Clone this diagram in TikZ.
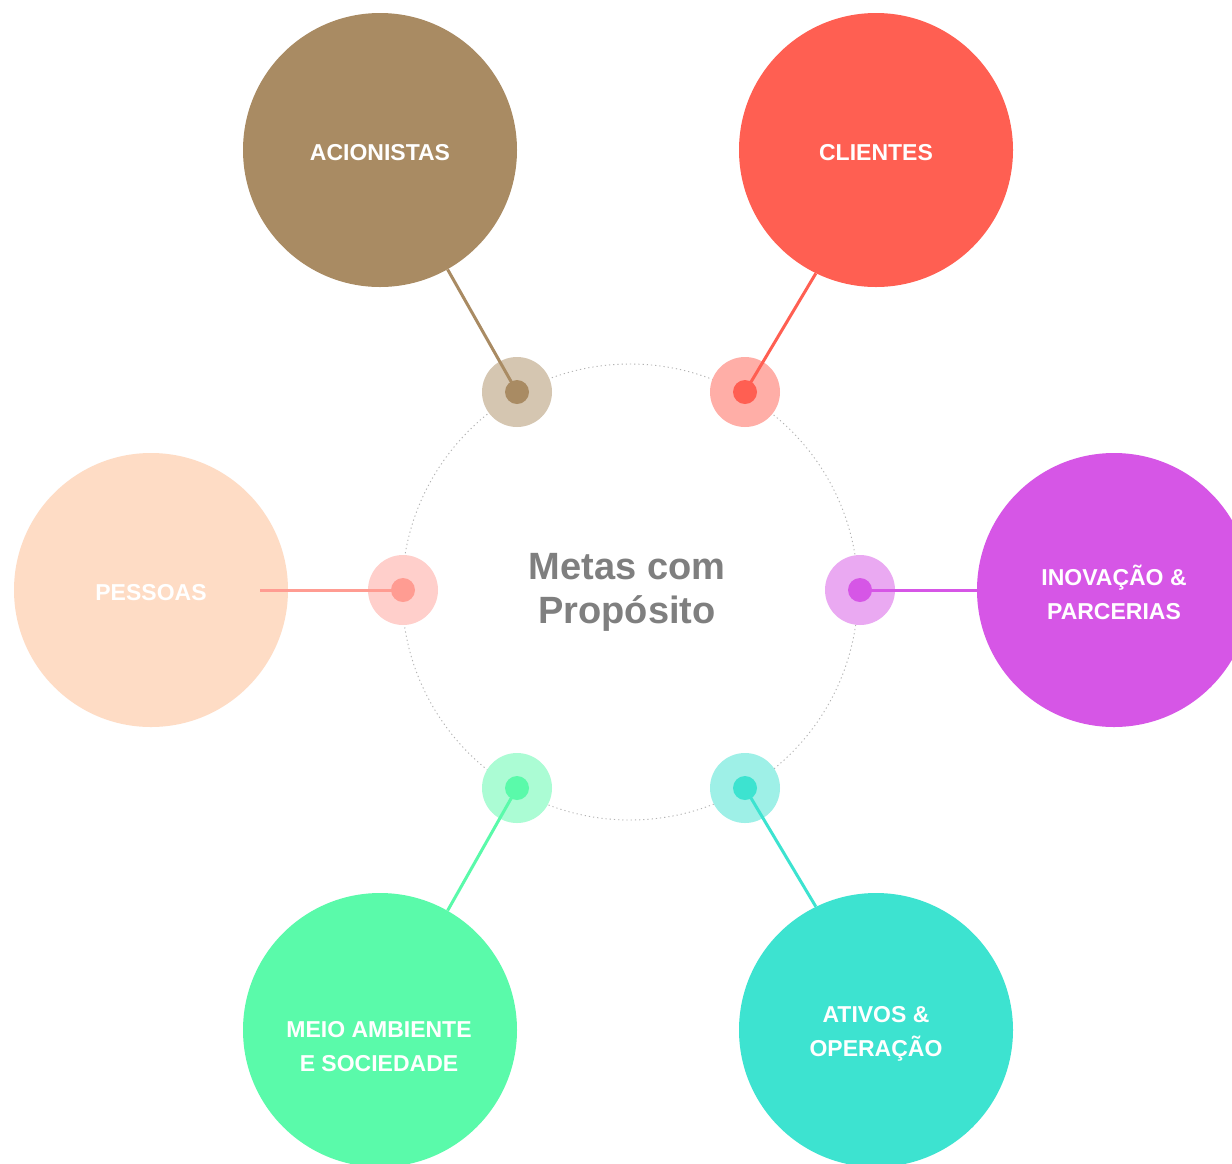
\documentclass[tikz,border=0pt]{standalone}
\usepackage{fontspec}
\setmainfont{Liberation Sans}
\begin{document}
\begin{tikzpicture}[x=1pt,y=-1pt,
  bigc/.style={circle,minimum size=274pt,inner sep=0pt,fill=#1},
  lbl/.style={text=white,font=\fontsize{23}{34}\selectfont\bfseries,align=center},
  ring/.style={circle,minimum size=70pt,inner sep=0pt,fill=#1},
  core/.style={circle,minimum size=24pt,inner sep=0pt,fill=#1},
  link/.style={draw=#1,line width=3pt},
  hub/.style={circle,minimum size=456pt,inner sep=0pt,draw=gray!60,
    dash pattern=on 1.2pt off 3pt,line width=0.9pt}]
\definecolor{cAci}{HTML}{A98B63}
\definecolor{cAciL}{HTML}{D5C6B1}
\definecolor{cCli}{HTML}{FF5F52}
\definecolor{cCliL}{HTML}{FFAEA7}
\definecolor{cIno}{HTML}{D656E6}
\definecolor{cInoL}{HTML}{EAA9F2}
\definecolor{cAti}{HTML}{3DE3D0}
\definecolor{cAtiL}{HTML}{9EF0E7}
\definecolor{cMei}{HTML}{5AFAAA}
\definecolor{cMeiL}{HTML}{ABFCD4}
\definecolor{cPes}{HTML}{FEDCC5}
\definecolor{cPesD}{HTML}{FF9C92}
\definecolor{cPesL}{HTML}{FFCFCB}
\definecolor{cTitle}{HTML}{7F7F7F}
\useasboundingbox (0,0) rectangle (1232,1163);
\fill[white] (0,0) rectangle (1232,1163);

% central hub
\node[hub] (hub) at (630,592) {};
\node[text=cTitle,font=\fontsize{38}{44}\selectfont\bfseries,align=center] (title) at (627,592) {Metas com\\Propósito};

% outer circles
\node[bigc=cAci] (aci) at (380,150) {};
\node[bigc=cCli] (cli) at (876,150) {};
\node[bigc=cIno] (ino) at (1114,590) {};
\node[bigc=cAti] (ati) at (876,1030) {};
\node[bigc=cMei] (mei) at (380,1030) {};
\node[bigc=cPes] (pes) at (151,590) {};
\coordinate (pesend) at (260,590);

% labels
\node[lbl] (taci) at (380,153) {ACIONISTAS};
\node[lbl] (tcli) at (876,153) {CLIENTES};
\node[lbl] (tino) at (1114,592) {INOVAÇÃO \&\\PARCERIAS};
\node[lbl] (tati) at (876,1034) {ATIVOS \&\\OPERAÇÃO};
\node[lbl] (tmei) at (379,1047) {MEIO AMBIENTE\\E SOCIEDADE};
\node[lbl] (tpes) at (151,593) {PESSOAS};

% markers on the hub
\node[ring=cAciL] (raci) at (517,392) {};
\node[ring=cCliL] (rcli) at (745,392) {};
\node[ring=cInoL] (rino) at (860,590) {};
\node[ring=cAtiL] (rati) at (745,788) {};
\node[ring=cMeiL] (rmei) at (517,788) {};
\node[ring=cPesL] (rpes) at (403,590) {};

% connectors
\draw[link=cAci] (raci.center) -- (aci);
\draw[link=cCli] (rcli.center) -- (cli.-116);
\draw[link=cIno] (rino.center) -- (ino);
\draw[link=cAti] (rati.center) -- (ati.116);
\draw[link=cMei] (rmei.center) -- (mei);
\draw[link=cPesD] (rpes.center) -- (pesend);

\node[core=cAci] (daci) at (raci) {};
\node[core=cCli] (dcli) at (rcli) {};
\node[core=cIno] (dino) at (rino) {};
\node[core=cAti] (dati) at (rati) {};
\node[core=cMei] (dmei) at (rmei) {};
\node[core=cPesD] (dpes) at (rpes) {};
\end{tikzpicture}
\end{document}
